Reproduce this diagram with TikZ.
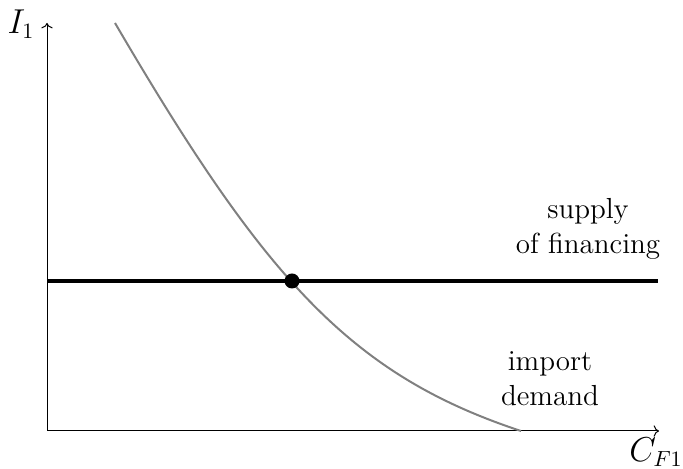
\documentclass[tikz,border=0pt]{standalone}
\usetikzlibrary{arrows.meta,positioning}
\definecolor{demgray}{HTML}{808080}

\begin{document}
\begin{tikzpicture}[x=0.5pt,y=0.5pt,
  axis/.style={->,line width=0.5pt},
  supply/.style={line width=2pt,black},
  demand/.style={line width=1pt,demgray},
  lbl/.style={font=\fontsize{14.5}{17.5}\selectfont,align=center,inner sep=0pt},
  axlbl/.style={font=\fontsize{16}{19}\selectfont,inner sep=0pt},
  eqdot/.style={circle,fill=black,inner sep=0pt,minimum size=7.5pt}
]
  \useasboundingbox (0,0) rectangle (683,469);

  % ---- Axes -----------------------------------------------------
  \coordinate (O) at (47,38);
  \coordinate (ytop) at (47,446);
  \coordinate (xend) at (659,38);
  \draw[axis] (O) -- (ytop);
  \draw[axis] (O) -- (xend);
  \node[axlbl] (ylab) at (21,445) {$I_1$};
  \node[axlbl] (xlab) at (656,17) {$C_{F1}$};

  % ---- Import demand curve --------------------------------------
  \coordinate (dtop) at (115,446);
  \coordinate (dbot) at (521,38);
  \draw[demand] (dtop) .. controls (265,189.5) and (351,94.1) .. (dbot);

  % ---- Supply of financing --------------------------------------
  \coordinate (sleft) at (47,188);
  \coordinate (sright) at (658,188);
  \draw[supply] (sleft) -- (sright);

  % Equilibrium
  \node[eqdot] (eq) at (292,188) {};

  % ---- Labels ---------------------------------------------------
  \node[lbl] (slab) at (588,240) {supply\\of financing};
  \node[lbl] (dlab) at (550,90.5) {import\\demand};

\end{tikzpicture}
\end{document}
